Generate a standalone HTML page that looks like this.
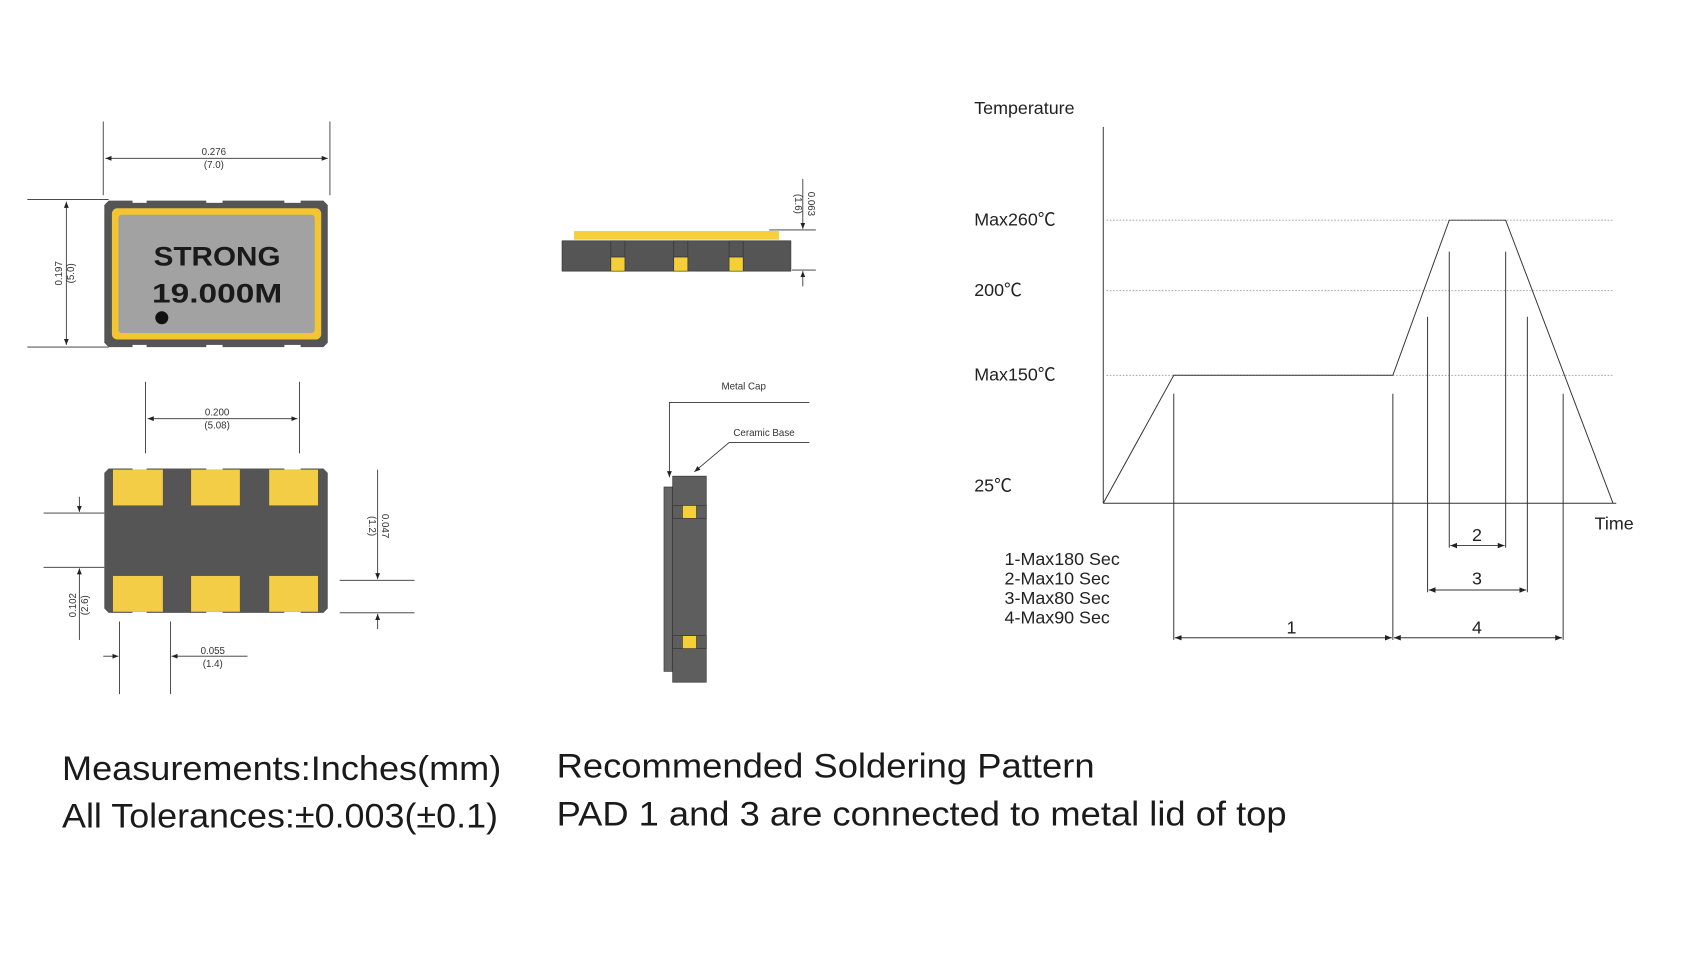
<!DOCTYPE html>
<html><head><meta charset="utf-8"><style>
html,body{margin:0;padding:0;background:#fff;}
svg{display:block;font-family:"Liberation Sans","Noto Sans CJK SC",sans-serif;}
</style></head><body>
<svg width="1700" height="974" viewBox="0 0 1567 898" xmlns="http://www.w3.org/2000/svg">
<defs>
<marker id="a" viewBox="0 0 10 10" refX="10" refY="5" markerWidth="7" markerHeight="7" orient="auto-start-reverse"><path d="M0,1 L10,5 L0,9 z" fill="#222"/></marker>
</defs>
<rect width="1567" height="898" fill="#fff"/>

<!-- TOP VIEW -->
<g stroke="#333" stroke-width="0.8" fill="none">
<line x1="95" y1="112" x2="95" y2="180"/><line x1="304" y1="112" x2="304" y2="180"/>
<line x1="97" y1="146" x2="302" y2="146" marker-start="url(#a)" marker-end="url(#a)"/>
<line x1="25" y1="184" x2="100" y2="184"/><line x1="25" y1="320" x2="100" y2="320"/>
<line x1="61" y1="186" x2="61" y2="318" marker-start="url(#a)" marker-end="url(#a)"/>
</g>
<g font-size="9" fill="#333" text-anchor="middle">
<text x="197" y="143">0.276</text><text x="197" y="155">(7.0)</text>
<text transform="translate(57,252) rotate(-90)">0.197</text>
<text transform="translate(68,252) rotate(-90)">(5.0)</text>
</g>
<polygon points="100,185 298,185 302,189 302,316 298,320 100,320 96,316 96,189" fill="#555"/>
<g fill="#fff"><rect x="122" y="184" width="13" height="3"/><rect x="190" y="184" width="15" height="3"/><rect x="262" y="184" width="15" height="3"/>
<rect x="122" y="318" width="13" height="3"/><rect x="190" y="318" width="15" height="3"/><rect x="262" y="318" width="15" height="3"/></g>
<rect x="103" y="192" width="193" height="121" rx="5" fill="#f2c531"/>
<rect x="109" y="198" width="181" height="109" rx="3" fill="#a2a2a2"/>
<g font-weight="bold" font-size="25" fill="#1a1a1a" text-anchor="middle">
<text x="200" y="245" textLength="117" lengthAdjust="spacingAndGlyphs">STRONG</text>
<text x="200" y="279" textLength="120" lengthAdjust="spacingAndGlyphs">19.000M</text>
</g>
<circle cx="149" cy="293" r="6" fill="#111"/>

<!-- BOTTOM VIEW -->
<g stroke="#333" stroke-width="0.8" fill="none">
<line x1="134" y1="352" x2="134" y2="418"/><line x1="276" y1="352" x2="276" y2="418"/>
<line x1="136" y1="386" x2="274" y2="386" marker-start="url(#a)" marker-end="url(#a)"/>
<line x1="40" y1="473" x2="96" y2="473"/><line x1="40" y1="523" x2="96" y2="523"/>
<line x1="73" y1="458" x2="73" y2="472" marker-end="url(#a)"/>
<line x1="73" y1="590" x2="73" y2="524" marker-end="url(#a)"/>
<line x1="313" y1="535" x2="382" y2="535"/><line x1="313" y1="565" x2="382" y2="565"/>
<line x1="348" y1="433" x2="348" y2="534" marker-end="url(#a)"/>
<line x1="348" y1="580" x2="348" y2="566" marker-end="url(#a)"/>
<line x1="110" y1="573" x2="110" y2="640"/><line x1="157" y1="573" x2="157" y2="640"/>
<line x1="95" y1="605" x2="109" y2="605" marker-end="url(#a)"/>
<line x1="228" y1="605" x2="158" y2="605" marker-end="url(#a)"/>
</g>
<g font-size="9" fill="#333" text-anchor="middle">
<text x="200" y="383">0.200</text><text x="200" y="395">(5.08)</text>
<text transform="translate(70,558) rotate(-90)">0.102</text>
<text transform="translate(81,558) rotate(-90)">(2.6)</text>
<text transform="translate(352,485) rotate(90)">0.047</text>
<text transform="translate(340,485) rotate(90)">(1.2)</text>
<text x="196" y="603">0.055</text><text x="196" y="615">(1.4)</text>
</g>
<polygon points="100,432 298,432 302,436 302,561 298,565 100,565 96,561 96,436" fill="#555"/>
<g fill="#fff"><rect x="122" y="431" width="13" height="2"/><rect x="190" y="431" width="15" height="2"/><rect x="262" y="431" width="15" height="2"/>
<rect x="122" y="564" width="13" height="2"/><rect x="190" y="564" width="15" height="2"/><rect x="262" y="564" width="15" height="2"/></g>
<g fill="#f2cd45">
<rect x="104" y="433" width="46" height="33"/><rect x="176" y="433" width="45" height="33"/><rect x="248" y="433" width="45" height="33"/>
<rect x="104" y="531" width="46" height="33"/><rect x="176" y="531" width="45" height="33"/><rect x="248" y="531" width="45" height="33"/>
</g>

<!-- SIDE VIEW -->
<rect x="529" y="213" width="189" height="8" fill="#f5d03a"/>
<rect x="518" y="222" width="211" height="28" fill="#555" stroke="#333" stroke-width="0.6"/>
<g stroke="#333" stroke-width="0.6">
<rect x="563" y="222" width="13" height="15" fill="#555"/><rect x="563" y="237" width="13" height="13" fill="#f5cf36"/>
<rect x="621" y="222" width="13" height="15" fill="#555"/><rect x="621" y="237" width="13" height="13" fill="#f5cf36"/>
<rect x="672" y="222" width="13" height="15" fill="#555"/><rect x="672" y="237" width="13" height="13" fill="#f5cf36"/>
</g>
<g stroke="#333" stroke-width="0.8" fill="none">
<line x1="740" y1="165" x2="740" y2="211" marker-end="url(#a)"/>
<line x1="709" y1="212" x2="752" y2="212"/><line x1="730" y1="249" x2="752" y2="249"/>
<line x1="740" y1="264" x2="740" y2="250" marker-end="url(#a)"/>
</g>
<g font-size="9" fill="#333" text-anchor="middle">
<text transform="translate(745,188) rotate(90)">0.063</text>
<text transform="translate(733,188) rotate(90)">(1.6)</text>
</g>

<!-- SECOND SIDE VIEW -->
<rect x="612" y="449" width="8" height="170" fill="#666" stroke="#333" stroke-width="0.6"/>
<rect x="620" y="439" width="31" height="190" fill="#5e5e5e" stroke="#333" stroke-width="0.6"/>
<g stroke="#333" stroke-width="0.6">
<rect x="620" y="466" width="31" height="12" fill="#5e5e5e"/><rect x="629" y="466" width="13" height="12" fill="#f5cf36"/>
<rect x="620" y="586" width="31" height="12" fill="#5e5e5e"/><rect x="629" y="586" width="13" height="12" fill="#f5cf36"/>
</g>
<g stroke="#333" stroke-width="0.8" fill="none">
<polyline points="746,371 617,371 617,440" marker-end="url(#a)"/>
<polyline points="746,408 672,408 640,435" marker-end="url(#a)"/>
</g>
<g font-size="9" fill="#333"><text x="665" y="359">Metal Cap</text><text x="676" y="402">Ceramic Base</text></g>

<!-- CHART -->
<g font-size="16.5" fill="#222">
<text x="898" y="105">Temperature</text>
<text x="898" y="208">Max260℃</text>
<text x="898" y="273">200℃</text>
<text x="898" y="351">Max150℃</text>
<text x="898" y="453">25℃</text>
<text x="1470" y="488">Time</text>
<text x="926" y="521">1-Max180 Sec</text>
<text x="926" y="539">2-Max10 Sec</text>
<text x="926" y="557">3-Max80 Sec</text>
<text x="926" y="575">4-Max90 Sec</text>
<text x="1357" y="499">2</text>
<text x="1357" y="539">3</text>
<text x="1186" y="584">1</text>
<text x="1357" y="584">4</text>
</g>
<g stroke="#999" stroke-width="0.8" stroke-dasharray="1.5,1.5">
<line x1="1020" y1="203" x2="1488" y2="203"/><line x1="1020" y1="268" x2="1488" y2="268"/><line x1="1020" y1="346" x2="1488" y2="346"/>
</g>
<g stroke="#333" stroke-width="0.9" fill="none">
<line x1="1017" y1="117" x2="1017" y2="464"/><line x1="1017" y1="464" x2="1490" y2="464"/>
<polyline points="1017,464 1082,346 1284,346 1336,203 1388,203 1487,464"/>
<line x1="1082" y1="363" x2="1082" y2="590"/><line x1="1284" y1="363" x2="1284" y2="590"/>
<line x1="1336" y1="232" x2="1336" y2="505"/><line x1="1388" y1="232" x2="1388" y2="505"/>
<line x1="1316" y1="292" x2="1316" y2="546"/><line x1="1408" y1="292" x2="1408" y2="546"/>
<line x1="1441" y1="363" x2="1441" y2="590"/>
<line x1="1337" y1="503" x2="1387" y2="503" marker-start="url(#a)" marker-end="url(#a)"/>
<line x1="1317" y1="544" x2="1407" y2="544" marker-start="url(#a)" marker-end="url(#a)"/>
<line x1="1083" y1="588" x2="1283" y2="588" marker-start="url(#a)" marker-end="url(#a)"/>
<line x1="1285" y1="588" x2="1440" y2="588" marker-start="url(#a)" marker-end="url(#a)"/>
</g>

<!-- BOTTOM TEXT -->
<g font-size="32" fill="#1a1a1a">
<text x="57" y="719" textLength="405" lengthAdjust="spacingAndGlyphs">Measurements:Inches(mm)</text>
<text x="57" y="763" textLength="402" lengthAdjust="spacingAndGlyphs">All Tolerances:±0.003(±0.1)</text>
<text x="513" y="717" textLength="496" lengthAdjust="spacingAndGlyphs">Recommended Soldering Pattern</text>
<text x="513" y="761" textLength="673" lengthAdjust="spacingAndGlyphs">PAD 1 and 3 are connected to metal lid of top</text>
</g>
</svg>
</body></html>
